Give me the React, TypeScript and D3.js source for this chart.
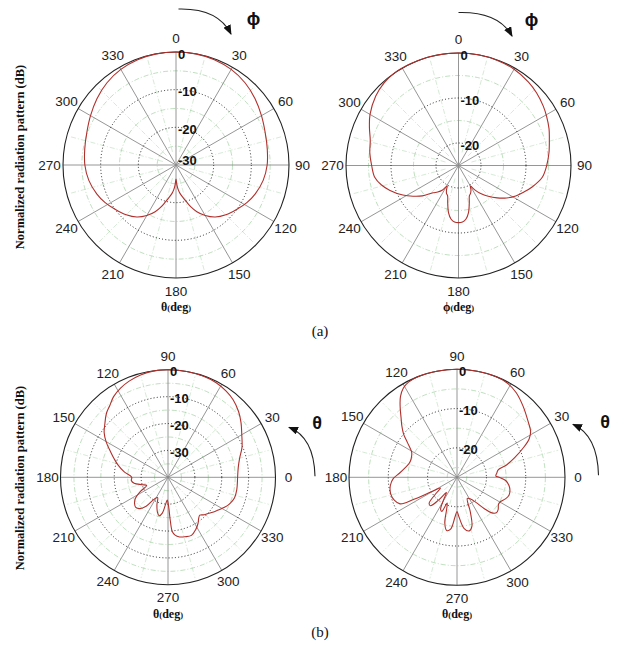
import React, { useEffect } from 'react';
import * as d3 from 'd3';

const SPOKES = [0, 30, 60, 90, 120, 150, 180, 210, 240, 270, 300, 330];

// (a) left: phi cut, 0 deg at top, clockwise
const A1_ANG = [0, 10, 20, 30, 40, 50, 60, 70, 80, 90, 100, 110, 118, 126, 135, 143, 150, 156, 160, 164, 168, 172, 175, 177.5, 180,
  182.5, 185, 188, 192, 196, 200, 204, 210, 217, 225, 234, 242, 250, 260, 270, 280, 290, 300, 310, 320, 330, 340, 350];
const A1_DB = [0, -0.05, -0.25, -0.7, -1.5, -2.6, -3.8, -4.8, -5.4, -5.8, -6.5, -7.6, -8.7, -10.0, -11.3, -12.7, -14.5, -16.4, -18.0, -19.8, -21.2, -22.4, -23.5, -24.8, -26.3,
  -24.8, -23.5, -22.4, -21.2, -19.8, -18.0, -16.4, -14.5, -12.7, -11.3, -10.0, -8.7, -7.6, -6.5, -5.8, -5.4, -4.8, -3.8, -2.6, -1.5, -0.7, -0.25, -0.05];

// (a) right: phi cut
const A2_ANG = [0, 10, 20, 30, 40, 47, 55, 61, 68, 74, 82, 90, 98, 106, 112, 118, 124, 130, 136, 142, 146, 150, 153, 157, 160, 164, 168, 172, 176, 180,
  184, 188, 192, 196, 200, 203, 206, 209, 213, 218, 223, 230, 236, 242, 250, 256, 262, 270, 278, 286, 293, 300, 310, 318, 325, 335, 345, 352];
const A2_DB = [0, 0, -0.1, -0.3, -0.8, -1.3, -2.0, -2.6, -3.3, -4.0, -4.7, -5.4, -6.2, -7.9, -9.3, -10.6, -12.1, -13.8, -15.5, -17.2, -18.4, -19.7, -18.9, -18.2, -17.9, -16.3, -14.3, -13.0, -12.4, -12.3,
  -12.4, -13.0, -14.3, -16.3, -17.9, -18.2, -18.9, -19.8, -18.5, -17.5, -16.7, -14.5, -12.8, -11.0, -8.8, -7.3, -6.2, -5.7, -5.1, -4.6, -3.5, -2.3, -1.0, -0.3, 0, 0, 0, 0];

// (b) left: theta cut, 0 deg at right, counter-clockwise
const B1_ANG = [0, 8, 15, 22, 30, 37, 43, 50, 56, 63, 71, 80, 90, 98, 105, 112, 118, 124, 129, 134, 140, 145, 150, 156, 161, 166, 173, 180,
  185, 190, 196, 201, 207, 213, 218, 223, 228, 233, 238, 243, 248, 253, 257, 261, 265, 268, 271, 273, 274.5, 277, 281, 286, 292, 298, 303, 307, 310,
  314, 318, 322, 327, 332, 337, 343, 350, 355];
const B1_DB = [-14.1, -13.6, -12.4, -10.3, -8.3, -6.0, -4.1, -2.3, -1.3, -0.5, -0.1, 0, 0, -0.1, -0.6, -1.4, -2.4, -3.8, -5.6, -7.0, -9.3, -11.0, -13.4, -16.6, -18.8, -20.8, -23.6, -26.5,
  -26.3, -27.2, -30, -31.5, -28.5, -25.5, -24.2, -23.6, -24.3, -26.5, -30.5, -31.5, -29, -26.5, -25.3, -26.5, -30, -31.5, -29.5, -24, -19.8, -18.3, -17.4, -17.0, -16.7, -18.0, -19.5, -21.0, -21.6,
  -20.6, -19.9, -18.9, -17.7, -16.2, -15.0, -14.1, -14.0, -14.1];

// (b) right: theta cut
const B2_ANG = [0, 2, 6, 10, 14, 19, 24, 28, 32, 38, 47, 55, 62, 70, 80, 90, 100, 110, 117, 121, 125, 129, 133, 137, 141, 145, 151, 158, 164, 170, 176, 181, 187, 194, 200, 205, 207, 209.5,
  213, 218, 223, 227, 231, 235, 239, 243, 246, 249, 252, 255, 259, 263, 267, 270, 273, 278, 283, 287, 291, 296, 302, 307, 311, 314, 318, 322, 327, 331, 336, 341, 346, 351, 356];
const B2_DB = [-16.8, -17.6, -17.3, -16.9, -14.5, -11.9, -9.0, -6.7, -5.4, -4.5, -2.8, -1.2, -0.3, 0, 0, 0, 0, 0, -0.3, -1.0, -2.4, -4.5, -6.6, -8.3, -10.0, -12.1, -14.3, -14.9, -14.8, -14.0, -12.8, -11.3, -10.4, -10.1, -10.5, -11.5, -15, -20,
  -22.5, -20.5, -17.8, -17.6, -20, -22.8, -21, -18.3, -18, -20.5, -19, -15.5, -13.7, -14.2, -17.3, -18.8, -17.3, -14.3, -13.5, -14.5, -18, -21.5, -21, -19.5, -17, -15, -14, -14.2, -14.9, -14.8, -14.0, -13.5, -13.6, -14.1, -15.0];

const PANELS = [
  { ang: A1_ANG, db: A1_DB, cx: 176, cy: 165, R: 113, dom: [-30, 0], ticks: [0, -10, -20, -30], cw: true, sym: '\u03D5', axis: '\u03B8',
    arrow: { s: [2.5, -156], c: [42, -157], e: [55, -131], t: [77.5, -146.5] } },
  { ang: A2_ANG, db: A2_DB, cx: 458.5, cy: 165.5, R: 112.5, dom: [-25, 0], ticks: [0, -10, -20], cw: true, sym: '\u03D5', axis: '\u03D5',
    arrow: { s: [0, -153], c: [40, -154], e: [53.5, -129.5], t: [73, -145.5] } },
  { ang: B1_ANG, db: B1_DB, cx: 168, cy: 477.3, R: 107.5, dom: [-40, 0], ticks: [0, -10, -20, -30], cw: false, sym: '\u03B8', axis: '\u03B8',
    arrow: { s: [147, -1], c: [146, -40], e: [121, -50], t: [149, -54] } },
  { ang: B2_ANG, db: B2_DB, cx: 457, cy: 477.3, R: 108, dom: [-27.5, 0], ticks: [0, -10, -20], cw: false, sym: '\u03B8', axis: '\u03B8',
    arrow: { s: [141.5, -2], c: [140.5, -42], e: [116, -53], t: [148, -55.5] } },
];

const SANS = '"Liberation Sans", Arial, Helvetica, sans-serif';
const SERIF = '"Liberation Serif", "Times New Roman", Times, serif';

function Polar({ p, id }) {
  const r = d3.scaleLinear().domain(p.dom).range([0, p.R]).clamp(true);
  const rad = (a) => ((p.cw ? a : 90 - a) * Math.PI) / 180;
  const pos = (a, rr) => [rr * Math.sin(rad(a)), -rr * Math.cos(rad(a))];

  const pts = p.ang.map((a, i) => [rad(a), r(p.db[i])]);
  const path = d3.lineRadial().curve(d3.curveCatmullRomClosed.alpha(0.5))(pts);

  const mids = p.ticks.map((t) => t - 5).filter((t) => t > p.dom[0]);
  const greenRadials = SPOKES.map((a) => a + 15);
  const a = p.arrow;

  return (
    <g transform={`translate(${p.cx},${p.cy})`}>
      {/* faint green secondary grid */}
      {mids.map((t) => (
        <circle key={'m' + t} r={r(t)} fill="none" stroke="#8cc58c" strokeWidth={0.7} strokeDasharray="5 2 1 2" opacity={0.8} />
      ))}
      {greenRadials.map((g) => {
        const [x1, y1] = pos(g, p.R * 0.12);
        const [x2, y2] = pos(g, p.R * 0.97);
        return <line key={'g' + g} x1={x1} y1={y1} x2={x2} y2={y2} stroke="#9fcf9f" strokeWidth={0.6} strokeDasharray="5 2 1 2" opacity={0.7} />;
      })}
      {/* spokes */}
      {SPOKES.filter((s) => s < 180).map((s) => {
        const [x1, y1] = pos(s, p.R);
        return <line key={'s' + s} x1={x1} y1={y1} x2={-x1} y2={-y1} stroke="#8a8a8a" strokeWidth={0.9} />;
      })}
      {/* dB rings */}
      {p.ticks.filter((t) => r(t) > 1 && r(t) < p.R - 1).map((t) => (
        <circle key={'r' + t} r={r(t)} fill="none" stroke="#111" strokeWidth={0.9} strokeDasharray="1 2.2" />
      ))}
      <circle r={p.R} fill="none" stroke="#222" strokeWidth={1.1} />
      {/* pattern */}
      <path d={path} fill="none" stroke="#b0302c" strokeWidth={1.1} />
      {/* angle labels */}
      {SPOKES.map((s) => {
        const [x, y] = pos(s, p.R * 1.12);
        return (
          <text key={'a' + s} x={x} y={y} textAnchor="middle" dominantBaseline="central" fontFamily={SANS} fontSize={13.5} fill="#222">
            {s}
          </text>
        );
      })}
      {/* dB labels */}
      {p.ticks.map((t) => (
        <text key={'l' + t} x={2} y={r(t) < 3 ? -5 : -r(t) + 2} dominantBaseline="central" fontFamily={SANS} fontWeight="bold" fontSize={13} fill="#111">
          {t}
        </text>
      ))}
      {/* rotation arrow */}
      <path d={`M${a.s[0]},${a.s[1]} Q${a.c[0]},${a.c[1]} ${a.e[0]},${a.e[1]}`} fill="none" stroke="#222" strokeWidth={1.1} markerEnd={`url(#head${id})`} />
      <text x={a.t[0]} y={a.t[1]} textAnchor="middle" dominantBaseline="central" fontFamily={SANS} fontWeight="bold" fontSize={18} fill="#111">
        {p.sym}
      </text>
      {/* axis label */}
      <text x={0} y={p.R + 33} textAnchor="middle" fontFamily={SERIF} fontWeight="bold" fontSize={12} fill="#111">
        {p.axis}
        <tspan fontSize={8.5}>(</tspan>
        deg
        <tspan fontSize={8.5}>)</tspan>
      </text>
      <defs>
        <marker id={`head${id}`} markerUnits="userSpaceOnUse" markerWidth={10} markerHeight={8} refX={9} refY={4} orient="auto">
          <path d="M0,0 L10,4 L0,8 z" fill="#111" />
        </marker>
      </defs>
    </g>
  );
}

export default function App() {
  useEffect(() => {
    document.body.style.margin = '0';
  }, []);

  return (
    <svg width={622} height={648} style={{ position: 'absolute', left: 0, top: 0, background: '#fff' }}>
      <rect width={622} height={648} fill="#fff" />
      {PANELS.map((p, i) => (
        <Polar key={i} p={p} id={i} />
      ))}
      {[157, 478].map((y, i) => (
        <text key={i} transform={`translate(20,${y}) rotate(-90)`} textAnchor="middle" dominantBaseline="central" fontFamily={SERIF} fontWeight="bold" fontSize={12.5} fill="#111">
          Normalized radiation pattern (dB)
        </text>
      ))}
      <text x={320} y={331} textAnchor="middle" dominantBaseline="central" fontFamily={SERIF} fontSize={15} fill="#111">(a)</text>
      <text x={320} y={632} textAnchor="middle" dominantBaseline="central" fontFamily={SERIF} fontSize={15} fill="#111">(b)</text>
    </svg>
  );
}
